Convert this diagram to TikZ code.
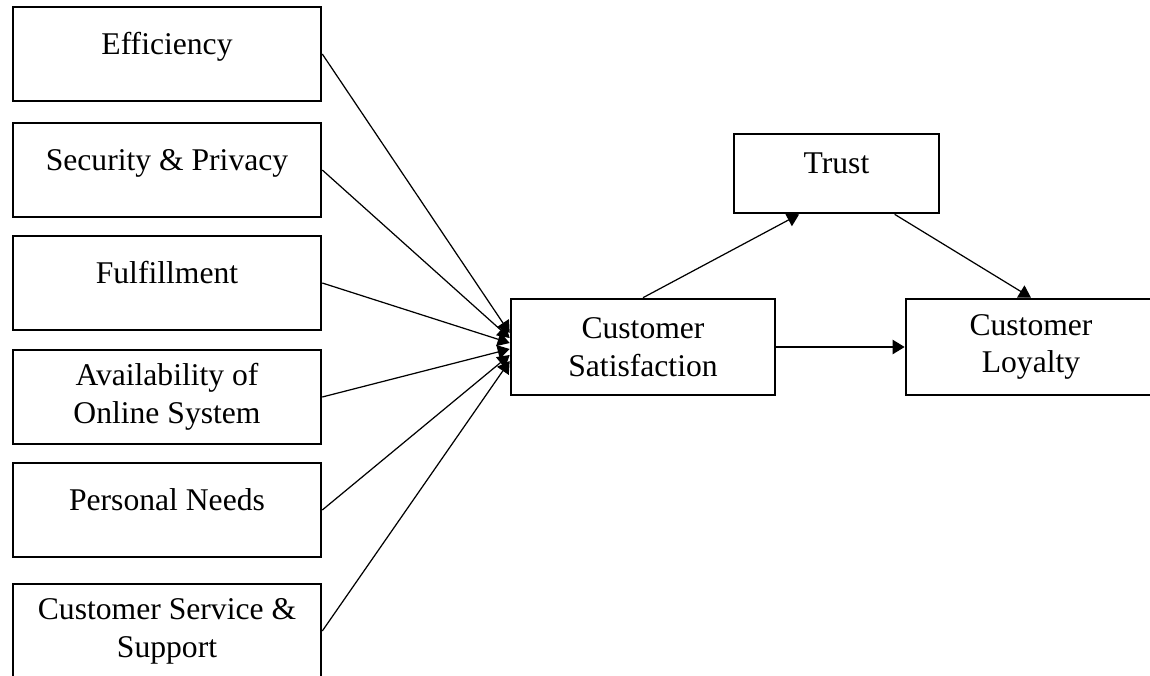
\documentclass[tikz,border=0pt]{standalone}
\usepackage{fontspec}
\setmainfont{Liberation Serif}
\usetikzlibrary{positioning, calc, arrows.meta}

\tikzset{
  box/.style={draw, line width=1.5pt, inner sep=0pt, align=center},
  oneline/.style={text height=#1, text depth=#1},
  link/.style={-{Triangle[length=0.24cm, width=0.28cm]}, line width=0.7pt},
}

\begin{document}
\begin{tikzpicture}[x=0.02cm, y=-0.02cm, font={\fontsize{18pt}{21.5pt}\selectfont}]
  \useasboundingbox (0,0) rectangle (1150,676);
  \clip (0,0) rectangle (1150,676);
  % left column: quality dimensions
  \foreach \i/\y/\lab in {1/54/Efficiency, 2/170/Security \& Privacy,
                          3/283/Fulfillment, 5/510/Personal Needs}{
    \node[box, oneline=0.94cm, minimum width=6.16cm] (f\i) at (167,\y) {\lab};
  }
  \foreach \i/\y/\lab in {4/397/{Availability of\\Online System},
                          6/631/{Customer Service \&\\Support}}{
    \node[box, minimum width=6.16cm, minimum height=1.88cm] (f\i) at (167,\y) {\lab};
  }
  % outcomes
  \node[box, minimum width=5.28cm, minimum height=1.92cm] (sat) at (643,347)
     {Customer\\Satisfaction};
  \node[box, oneline=0.79cm, minimum width=4.1cm] (trust) at (836.5,173.5) {Trust};
  \node[box, minimum width=5cm, minimum height=1.92cm] (loyal) at (1031,347)
     {Customer\\Loyalty};
  % links into satisfaction
  \foreach \i/\d in {1/-14, 2/-9, 3/-4, 4/2, 5/8, 6/14}{
    \draw[link] (f\i.east) -- ($(sat.west)+(0,\d)$);
  }
  % satisfaction -> trust -> loyalty
  \draw[link] (sat.north) -- ($(trust.south west)!0.32!(trust.south east)$);
  \draw[link] ($(trust.south west)!0.78!(trust.south east)$) -- (loyal.north);
  \draw[link, line width=1.2pt] (sat.east) -- (loyal.west);
\end{tikzpicture}
\end{document}
